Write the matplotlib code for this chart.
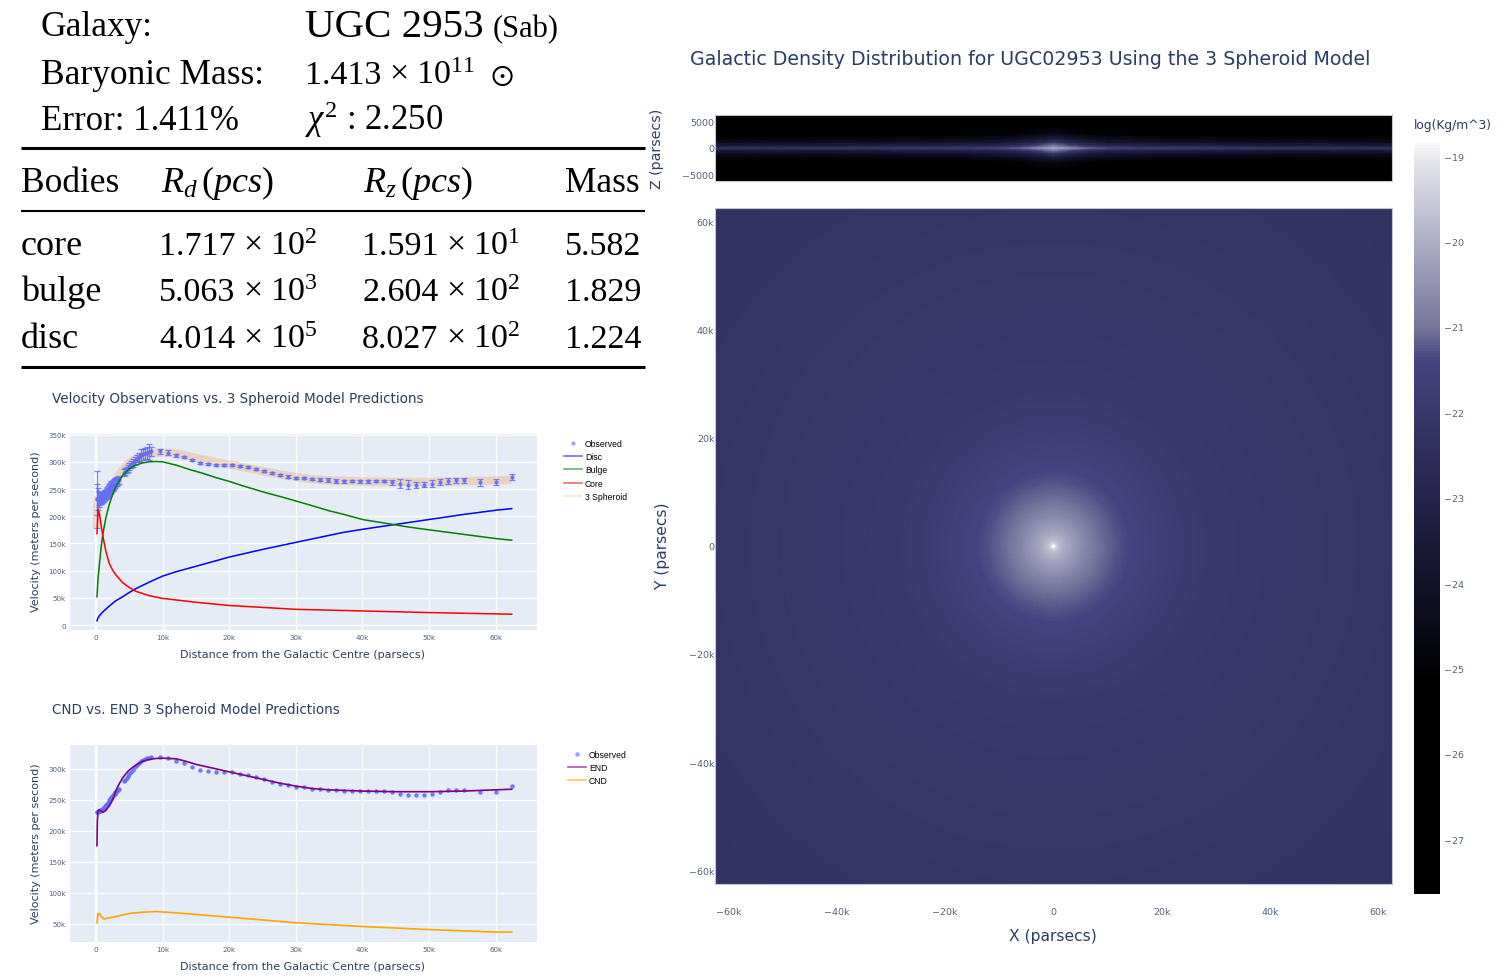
import numpy as np
import matplotlib
matplotlib.use('Agg')
import matplotlib.pyplot as plt
from matplotlib.colors import LinearSegmentedColormap, Normalize
from matplotlib.lines import Line2D

W, H = 1500, 979

plt.rcParams['mathtext.fontset'] = 'custom'
plt.rcParams['mathtext.rm'] = 'Liberation Serif'
plt.rcParams['mathtext.it'] = 'Liberation Serif:italic'
plt.rcParams['mathtext.bf'] = 'Liberation Serif:bold'
plt.rcParams['mathtext.fallback'] = 'cm'
plt.rcParams['mathtext.default'] = 'regular'

## Table text
table_header = ['Bodies', r'$\mathit{R_d}\,(\mathit{pcs})$', r'$\mathit{R_z}\,(\mathit{pcs})$', 'Mass']
table_bodies = ['core', 'bulge', 'disc']
table_rd = ['1.717', '5.063', '4.014']
table_rd_exp = [r'$\times$ 10$^{2}$', r'$\times$ 10$^{3}$', r'$\times$ 10$^{5}$']
table_rz = ['1.591', '2.604', '8.027']
table_rz_exp = [r'$\times$ 10$^{1}$', r'$\times$ 10$^{2}$', r'$\times$ 10$^{2}$']
table_mass = ['5.582', '1.829', '1.224']

## Observed rotation curve (radius in kpc, velocity and error in km/s)
obs_r = [0.1, 0.2, 0.3, 0.4, 0.5, 0.6, 0.7, 0.8, 0.9, 1.0, 1.1, 1.2, 1.3, 1.4, 1.5, 1.6, 1.7, 1.8, 1.9, 2.0,
         2.1, 2.2, 2.3, 2.4, 2.5, 2.6, 2.7, 2.8, 2.9, 3.0, 3.1, 3.2, 3.3, 3.4, 4.2, 4.4, 4.6, 4.8, 5.0, 5.3,
         5.6, 5.9, 6.2, 6.5, 6.8, 7.1, 7.4, 7.7, 8.0, 8.3, 9.6, 10.8, 12.0, 13.2, 14.4, 15.6, 16.8, 18.0,
         19.2, 20.4, 21.6, 22.8, 24.0, 25.2, 26.4, 27.6, 28.8, 30.0, 31.2, 32.4, 33.6, 34.8, 36.0, 37.2,
         38.4, 39.6, 40.8, 42.0, 43.2, 44.4, 45.6, 46.8, 48.0, 49.2, 50.4, 51.6, 52.8, 54.0, 55.2, 57.6,
         60.0, 62.4]
obs_v = [231, 231, 231, 232, 232, 233, 232, 233, 234, 235, 236, 237, 239, 240, 241, 243, 244, 245, 247, 249,
         251, 252, 254, 255, 256, 257, 259, 260, 262, 263, 264, 265, 266, 267, 280, 282, 285, 288, 291, 295,
         298, 302, 306, 309, 312, 314, 316, 317, 318, 319, 319, 317, 312, 309, 303, 298, 296, 294,
         294, 294, 292, 290, 287, 283, 279, 276, 273, 271, 270, 268, 267, 266, 265, 264,
         264, 264, 264, 264, 264, 262, 260, 258, 257, 258, 260, 263, 265, 266, 266, 262,
         263, 272]
obs_err = [53, 28, 20, 15, 12, 10, 10, 10, 9, 9, 9, 9, 9, 9, 9, 9, 10, 10, 10, 10,
           10, 10, 10, 9, 9, 9, 9, 8, 8, 8, 8, 7, 7, 7, 6, 6, 6, 6, 6, 6,
           7, 7, 7, 8, 12, 10, 10, 11, 14, 8, 5, 5, 3, 2, 2, 2, 2, 2,
           2, 2, 2, 2, 2, 2, 2, 2, 2, 2, 2, 2, 3, 4, 4, 3,
           2, 3, 3, 2, 2, 5, 8, 8, 5, 5, 6, 6, 6, 5, 5, 6,
           5, 6]

## Model curves
disc_r = [0.15, 0.3, 0.5, 1, 2, 3, 4, 5, 6, 7, 8, 10, 12, 15, 20, 25, 30, 37, 40, 45, 50, 55, 60, 62.4]
disc_v = [8, 13, 17, 24, 35, 45, 52, 60, 67, 73, 79, 90, 98, 108, 125, 139, 152, 170, 176, 185, 194, 203, 211, 214]
bulge_r = [0.15, 0.3, 0.5, 0.75, 1, 1.5, 2, 2.5, 3, 4, 5, 6, 7, 8, 9, 10, 12, 14, 16, 18, 20, 22, 25, 28, 30, 32, 35, 37, 40, 42, 45, 47, 50, 55, 60, 62.4]
bulge_v = [52, 84, 110, 140, 165, 198, 222, 240, 255, 275, 287, 294, 298, 300, 300.5, 300, 294, 286, 279, 271, 264, 256, 245, 235, 228, 221, 210, 204, 194, 190, 184, 180, 175, 167, 159, 156]
core_r = [0.15, 0.3, 0.5, 0.7, 1, 1.25, 1.5, 2, 2.5, 3, 4, 5, 6, 8, 10, 15, 20, 30, 40, 50, 62.4]
core_v = [168, 212, 205, 190, 166, 150, 135, 113, 101, 92, 78, 69, 62, 54, 49, 42, 36, 29, 26, 23, 20]
end_r = [0.15, 0.2, 0.3, 0.45, 0.7, 1.1, 1.5, 2, 2.5, 3, 3.5, 4, 4.5, 5, 6, 7, 8, 9, 10, 12, 13.5, 15, 17.5, 20, 22.5, 25, 27.5, 30, 32.5, 35, 40, 45, 50, 55, 60, 62.4]
end_v = [176, 215, 232, 234, 232, 230, 233, 240, 250, 265, 276, 285, 292, 298, 306, 312, 315, 316.5, 317, 316, 312, 307, 301, 295, 289, 283, 277, 272, 268, 266, 264, 263, 263, 264, 266, 267]
cnd_r = [0.15, 0.3, 0.5, 0.8, 1.2, 2, 3, 5, 7, 9, 12, 20, 30, 40, 50, 60, 62.4]
cnd_v = [52, 67, 67, 62, 58, 60, 62, 67, 69, 70, 68, 61, 52, 46, 41, 37, 37]

## Density readings: face on profile and edge on table (log10 kg/m^3)
face_radius = [0, 0.25, 0.5, 1, 2, 3, 5, 8, 12, 14.5, 17, 20, 30, 45, 62.5, 90]
face_logrho = [-18.8, -18.85, -19.35, -19.7, -20.0, -20.2, -20.55, -21.0, -21.3, -21.42, -21.55, -21.7, -21.95, -22.05, -22.15, -22.25]
edge_x = [0, 1, 3, 6, 10, 20, 40, 62.5]
edge_z = [0, 0.2, 0.5, 1.0, 1.7, 2.5, 4.0, 6.25]
edge_logrho = [
    [-19.9, -20.4, -20.9, -22.0, -23.2, -24.3, -25.6, -27.4],
    [-20.2, -20.7, -21.1, -22.2, -23.4, -24.4, -25.7, -27.4],
    [-20.5, -21.0, -21.7, -22.7, -23.7, -24.6, -25.8, -27.4],
    [-21.0, -21.5, -22.4, -23.3, -24.0, -24.9, -26.0, -27.4],
    [-21.4, -22.0, -22.9, -23.7, -24.3, -25.1, -26.2, -27.4],
    [-21.9, -22.4, -23.2, -23.9, -24.6, -25.4, -26.4, -27.4],
    [-22.1, -22.6, -23.4, -24.1, -24.8, -25.6, -26.6, -27.4],
    [-22.2, -22.7, -23.5, -24.2, -24.9, -25.7, -26.7, -27.4],
]

cbar_values = [-27.64, -25.2, -24, -23, -22, -21.4, -21, -20, -19, -18.8]
cbar_colors = ['#000000', '#000000', '#12122a', '#24234a', '#38386a', '#45437f', '#75759b', '#adadc6', '#e8e8ee', '#ffffff']
cbar_ticks = [-27, -26, -25, -24, -23, -22, -21, -20, -19]

TITLE = '#2a3f5f'
TICK = '#4f6180'
SANS = 'DejaVu Sans'


def px_axes(x0, y0, x1, y1):
    # axes from pixel box, y measured from the top
    return fig.add_axes([x0/W, 1-y1/H, (x1-x0)/W, (y1-y0)/H])


def px_text(x, y, s, size, color='black', family='Liberation Serif', ha='left', va='baseline', **kw):
    fig.text(x/W, 1-y/H, s, fontsize=size, color=color, family=family, ha=ha, va=va, **kw)


def style_curve_axes(ax, yticks, ylim):
    ax.set_facecolor('#e5ecf6')
    ax.set_xlim(-3.9, 66.2)
    ax.set_ylim(*ylim)
    ax.set_xticks(range(0, 61, 10))
    ax.set_xticklabels(['0'] + [f'{v}k' for v in range(10, 61, 10)])
    ax.set_yticks(yticks)
    ax.set_yticklabels([f'{v}k' if v else '0' for v in yticks])
    ax.grid(True, color='white', lw=0.9)
    ax.set_axisbelow(True)
    ax.axvline(0, color='white', lw=1.6, zorder=0.5)
    ax.tick_params(length=0, labelsize=5.1, labelcolor=TICK, pad=3)
    for label in ax.get_xticklabels() + ax.get_yticklabels():
        label.set_family(SANS)
    for s in ax.spines.values():
        s.set_visible(False)


fig = plt.figure(figsize=(W/100, H/100), dpi=100)

## Table at the top left
px_text(41, 36, 'Galaxy:', 25.5)
px_text(305, 37, 'UGC 2953', 29.5)
px_text(493, 37, '(Sab)', 22)
px_text(41, 84, 'Baryonic Mass:', 25.5)
px_text(305, 84, '1.413', 24.5)
px_text(389, 84, r'$\times$ 10$^{11}$', 24.5)
px_text(490, 84, r'$\odot$', 22)
px_text(41, 130, 'Error: 1.411%', 25)
px_text(305, 130, r'$\mathit{\chi}^{2}$ : 2.250', 25)

for y, lw in [(148.5, 2.2), (211.5, 1.5), (367.5, 2.2)]:
    fig.add_artist(Line2D([21/W, 645/W], [1-y/H, 1-y/H], color='black', lw=lw, solid_capstyle='butt'))

for x, s, size in zip([21, 161, 363, 565], table_header, [25.5, 26, 26, 25.5]):
    px_text(x, 192, s, size)
for i, y in enumerate([255, 301, 348]):
    px_text(21, y, table_bodies[i], 26)
    px_text(159, y, table_rd[i], 24.5)
    px_text(243, y, table_rd_exp[i], 24.5)
    px_text(362, y, table_rz[i], 24.5)
    px_text(446, y, table_rz_exp[i], 24.5)
    px_text(565, y, table_mass[i], 24.5)

## Velocity plot with all components
ax1 = px_axes(70, 434.5, 537, 631)
style_curve_axes(ax1, range(0, 351, 50), (-9, 352))
ax1.plot(end_r, end_v, color='sandybrown', alpha=0.35, lw=6, label='3 Spheroid', solid_capstyle='butt', zorder=2)
ax1.errorbar(obs_r, obs_v, yerr=obs_err, fmt='none', ecolor='#636efa', elinewidth=0.9, capsize=2.2, capthick=0.9, alpha=0.85, zorder=3)
ax1.plot(obs_r, obs_v, ls='none', marker='o', ms=3, color='#636efa', alpha=0.9, mew=0, label='Observed', zorder=3)
ax1.plot(disc_r, disc_v, color='blue', lw=1.1, label='Disc', zorder=4)
ax1.plot(bulge_r, bulge_v, color='green', lw=1.1, label='Bulge', zorder=4)
ax1.plot(core_r, core_v, color='red', lw=1.1, label='Core', zorder=4)
handles, labels = ax1.get_legend_handles_labels()
order = [labels.index(n) for n in ['Observed', 'Disc', 'Bulge', 'Core', '3 Spheroid']]
leg1 = ax1.legend([handles[i] for i in order], [labels[i] for i in order], loc='upper left',
                  bbox_to_anchor=(564/W, 1-440/H), bbox_transform=fig.transFigure, frameon=False,
                  prop={'family': 'Liberation Sans', 'size': 6.2}, handlelength=2.1, handletextpad=0.35,
                  labelspacing=0.49, borderpad=0, borderaxespad=0)
for h in leg1.legend_handles:
    h.set_linewidth(1.1 if h.get_linestyle() != 'None' else 0)
    h.set_alpha(0.65)
leg1.legend_handles[4].set_alpha(0.35)

## Velocity plot comparing the CND and END parts
ax2 = px_axes(70, 745.5, 537, 943)
style_curve_axes(ax2, range(50, 301, 50), (21, 339))
ax2.plot(obs_r, obs_v, ls='none', marker='o', ms=3.2, color='#636efa', alpha=0.9, mew=0, label='Observed', zorder=3)
ax2.plot(end_r, end_v, color='purple', lw=1.2, label='END', zorder=4)
ax2.plot(cnd_r, cnd_v, color='orange', lw=1.2, label='CND', zorder=4)
leg2 = ax2.legend(loc='upper left', bbox_to_anchor=(568/W, 1-751/H), bbox_transform=fig.transFigure, frameon=False,
                  prop={'family': 'Liberation Sans', 'size': 6.2}, handlelength=2.1, handletextpad=0.35,
                  labelspacing=0.49, borderpad=0, borderaxespad=0)
for h in leg2.legend_handles:
    h.set_alpha(0.65)

px_text(52, 403, 'Velocity Observations vs. 3 Spheroid Model Predictions', 9.75, TITLE, SANS)
px_text(52, 714, 'CND vs. END 3 Spheroid Model Predictions', 9.75, TITLE, SANS)
for y_mid, y_base in [(532, 658), (844, 970)]:
    px_text(303, y_base, 'Distance from the Galactic Centre (parsecs)', 8, TITLE, SANS, ha='center')
    px_text(36, y_mid, 'Velocity (meters per second)', 8, TITLE, SANS, ha='center', va='center', rotation=90)

## Density maps
cmap = LinearSegmentedColormap.from_list(
    'density',
    [((v-cbar_values[0])/(cbar_values[-1]-cbar_values[0]), c) for v, c in zip(cbar_values, cbar_colors)])
norm = Normalize(cbar_values[0], cbar_values[-1])

ax_face = px_axes(715, 208.5, 1392, 885)
grid = np.linspace(-62.5, 62.5, 501)
xx, yy = np.meshgrid(grid, grid)
face_img = np.interp(np.hypot(xx, yy), face_radius, face_logrho)
mesh = ax_face.pcolormesh(grid, grid, face_img, cmap=cmap, norm=norm, shading='gouraud')

ax_edge = px_axes(715, 115.5, 1392, 182)
edge_table = np.array(edge_logrho)
edge_table = np.hstack([edge_table[:, :0:-1], edge_table])
edge_table = np.vstack([edge_table[:0:-1], edge_table])
ex = np.r_[-np.array(edge_x[:0:-1]), edge_x]
ez = np.r_[-np.array(edge_z[:0:-1]), edge_z]
ax_edge.pcolormesh(ex, ez, edge_table.T, cmap=cmap, norm=norm, shading='gouraud')

ticks_k = [-60, -40, -20, 0, 20, 40, 60]
tick_labels = [f'\u2212{-v}k' if v < 0 else (f'{v}k' if v else '0') for v in ticks_k]
for ax in [ax_face, ax_edge]:
    for s in ax.spines.values():
        s.set_color('#c4c4cc')
        s.set_linewidth(0.8)
    ax.set_xlim(-62.5, 62.5)
    ax.tick_params(length=0, labelsize=6.8, labelcolor=TICK, pad=0.5)
ax_face.set_ylim(-62.5, 62.5)
ax_face.set_xticks(ticks_k)
ax_face.set_xticklabels(tick_labels)
ax_face.tick_params(axis='x', pad=16.5)
ax_face.set_yticks(ticks_k)
ax_face.set_yticklabels(tick_labels)
ax_edge.set_ylim(-6.25, 6.25)
ax_edge.set_xticks([])
ax_edge.set_yticks([-5, 0, 5])
ax_edge.set_yticklabels(['\u22125000', '0', '5000'])
for ax in [ax_face, ax_edge]:
    for label in ax.get_xticklabels() + ax.get_yticklabels():
        label.set_family(SANS)

cax = px_axes(1414, 140, 1440, 895)
cbar = fig.colorbar(mesh, cax=cax)
cbar.set_ticks(cbar_ticks)
cbar.set_ticklabels([f'\u2212{-v}' for v in cbar_ticks])
cbar.ax.tick_params(length=0, labelsize=6.8, labelcolor=TICK, pad=3)
for label in cbar.ax.get_yticklabels():
    label.set_family(SANS)
cbar.outline.set_visible(False)

px_text(1030, 65, 'Galactic Density Distribution for UGC02953 Using the 3 Spheroid Model', 13.7, TITLE, SANS, ha='center')
px_text(1053, 941, 'X (parsecs)', 11.2, TITLE, SANS, ha='center')
px_text(662, 546, 'Y (parsecs)', 11.2, TITLE, SANS, ha='center', va='center', rotation=90)
px_text(657, 149, 'Z (parsecs)', 10.2, TITLE, SANS, ha='center', va='center', rotation=90)
px_text(1453, 129, 'log(Kg/m^3)', 8.8, TITLE, SANS, ha='center')

fig.savefig('out.png', dpi=100)
